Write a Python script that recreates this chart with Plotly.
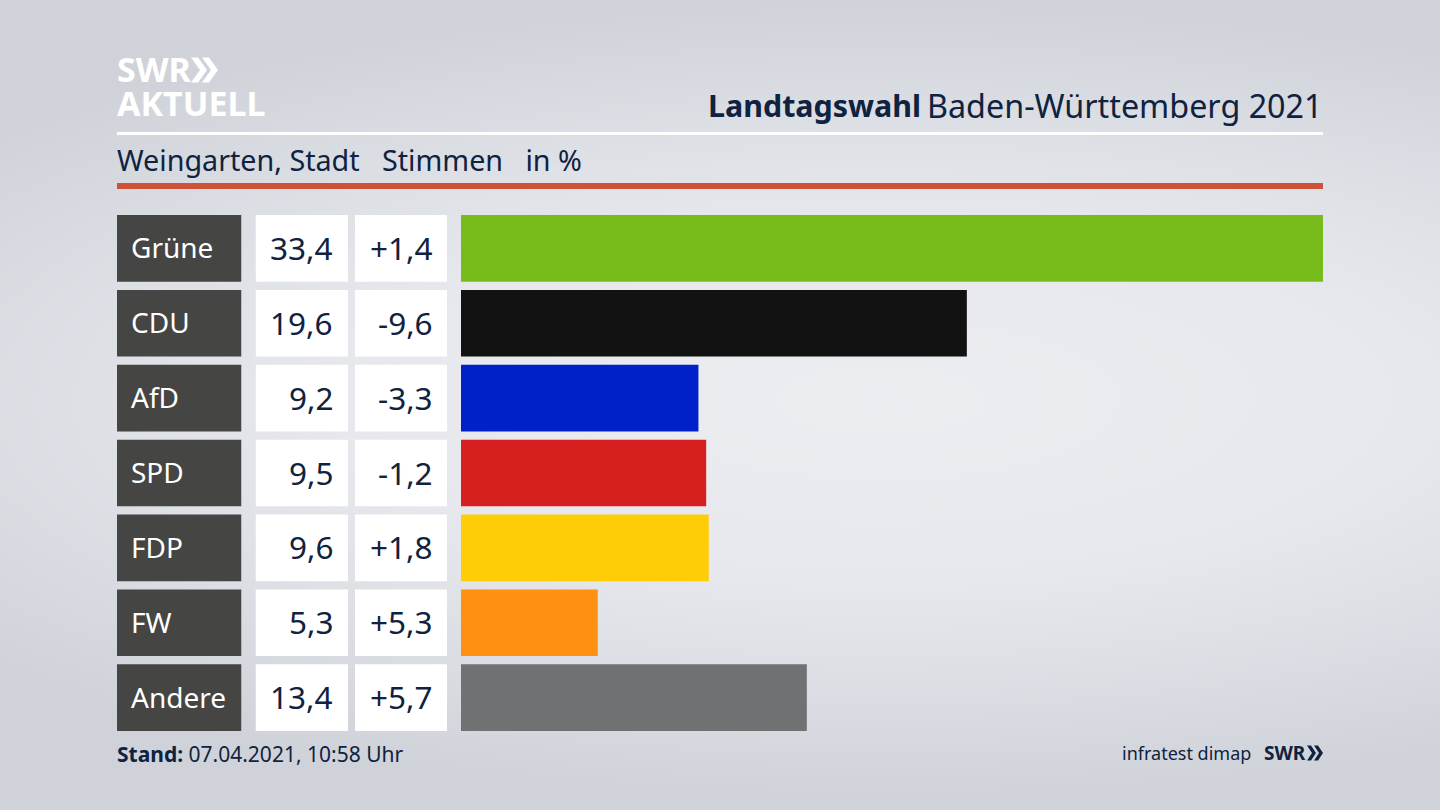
import base64
import plotly.graph_objects as go

W, H = 1440, 810
parties = ["Grüne", "CDU", "AfD", "SPD", "FDP", "FW", "Andere"]
shares = [33.4, 19.6, 9.2, 9.5, 9.6, 5.3, 13.4]
changes = ["+1,4", "-9,6", "-3,3", "-1,2", "+1,8", "+5,3", "+5,7"]
colors = ["#78bc1b", "#121212", "#0021c8", "#d61f1f", "#ffcc08", "#ff9012", "#707173"]
title_bold = "Landtagswahl"
title_rest = "Baden-Württemberg 2021"
subtitle = "Weingarten, Stadt   Stimmen   in %"
stand_label = "Stand:"
stand_value = "07.04.2021, 10:58 Uhr"
source = "infratest dimap"

INK = "#0f2240"
FONT = "Noto Sans"

def fmt(v):
    return f"{v:.1f}".replace(".", ",")

def px(x):
    return x / W

def py(y):
    return 1 - y / H

svg = f'''<svg xmlns="http://www.w3.org/2000/svg" width="{W}" height="{H}">
<defs><radialGradient id="g" gradientUnits="userSpaceOnUse" cx="880" cy="400" r="1" gradientTransform="translate(880 400) scale(1200 400) translate(-880 -400)">
<stop offset="0" stop-color="#ebedf1"/><stop offset="0.45" stop-color="#e6e8ed"/><stop offset="1" stop-color="#cfd3d9"/>
</radialGradient></defs><rect width="{W}" height="{H}" fill="url(#g)"/></svg>'''
bg = "data:image/svg+xml;base64," + base64.b64encode(svg.encode()).decode()

fig = go.Figure()
common = dict(y=parties, orientation="h", hoverinfo="skip", showlegend=False)
fig.add_trace(go.Bar(x=[1] * 7, xaxis="x2", marker=dict(color="#454543", line_width=0), **common))
fig.add_trace(go.Bar(x=[1] * 7, xaxis="x3", marker=dict(color="#ffffff", line_width=0), **common))
fig.add_trace(go.Bar(x=[1] * 7, xaxis="x4", marker=dict(color="#ffffff", line_width=0), **common))
fig.add_trace(go.Bar(x=shares, xaxis="x", marker=dict(color=colors, line_width=0), **common))

ann = []
def text(x, y, s, size, color=INK, anchor="left", yref="paper", yshift=0, **kw):
    ann.append(dict(x=x, y=y, xref="paper", yref=yref, text=s, showarrow=False, xanchor=anchor,
                    yanchor="middle", yshift=yshift, borderpad=0, borderwidth=0,
                    font=dict(family=FONT, size=size, color=color), **kw))

for p, s, c in zip(parties, shares, changes):
    text(px(131), p, p, 28, "#ffffff", "left", "y", yshift=1)
    text(px(333), p, fmt(s), 31.5, INK, "right", "y", yshift=1)
    text(px(433), p, c, 31.5, INK, "right", "y", yshift=1)

text(px(921), py(105), f"<b>{title_bold}</b>", 30.4, INK, "right")
text(px(1323), py(105), title_rest, 32.3, INK, "right")
text(px(117), py(159), subtitle.replace(" ", "\u00a0"), 28.7, INK, "left")
text(px(117), py(754), f"<b>{stand_label}</b> {stand_value}", 21, INK, "left")
text(px(1251), py(753), source, 18, INK, "right")
text(px(1264), py(753), "<b>SWR</b>", 19, INK, "left")
text(px(117), py(69), "<b>SWR</b>", 34, "#ffffff", "left", height=31)
text(px(117), py(103), "<b>AKTUELL</b>", 34, "#ffffff", "left", height=31)

def chevrons(x0, yc, h, w, step, t, color):
    out = []
    for i in range(2):
        x = x0 + i * step
        d = (f"M{px(x)},{py(yc - h / 2)} L{px(x + t)},{py(yc - h / 2)} L{px(x + t + w)},{py(yc)} "
             f"L{px(x + t)},{py(yc + h / 2)} L{px(x)},{py(yc + h / 2)} L{px(x + w)},{py(yc)} Z")
        out.append(dict(type="path", path=d, xref="paper", yref="paper", fillcolor=color, line_width=0, layer="above"))
    return out

shapes = [
    dict(type="rect", xref="paper", yref="paper", x0=px(117), x1=px(1323), y0=py(135), y1=py(132),
         fillcolor="#ffffff", line_width=0),
    dict(type="rect", xref="paper", yref="paper", x0=px(117), x1=px(1323), y0=py(189), y1=py(183),
         fillcolor="#cf5138", line_width=0),
]
shapes += chevrons(191, 70, 25, 9, 11, 7, "#ffffff")
shapes += chevrons(1307, 753, 15, 5, 7, 4, INK)

hidden = dict(visible=False, fixedrange=True)
fig.update_layout(
    width=W, height=H, margin=dict(l=0, r=0, t=0, b=0),
    paper_bgcolor="rgba(0,0,0,0)", plot_bgcolor="rgba(0,0,0,0)",
    barmode="overlay", bargap=0.11,
    xaxis=dict(domain=[px(461), px(1323)], range=[0, 33.4], **hidden),
    xaxis2=dict(domain=[px(117), px(241.5)], range=[0, 1], anchor="y", **hidden),
    xaxis3=dict(domain=[px(255.5), px(348)], range=[0, 1], anchor="y", **hidden),
    xaxis4=dict(domain=[px(355), px(447)], range=[0, 1], anchor="y", **hidden),
    yaxis=dict(domain=[py(735), py(211)], categoryorder="array", categoryarray=parties,
               autorange=False, range=[6.5, -0.5], **hidden),
    annotations=ann, shapes=shapes,
    images=[dict(source=bg, xref="paper", yref="paper", x=0, y=1, sizex=1, sizey=1,
                 sizing="stretch", xanchor="left", yanchor="top", layer="below")],
)
fig.write_html("out.html", post_script="document.body.style.margin='0';document.body.style.overflow='hidden';",
               config={"displayModeBar": False})
